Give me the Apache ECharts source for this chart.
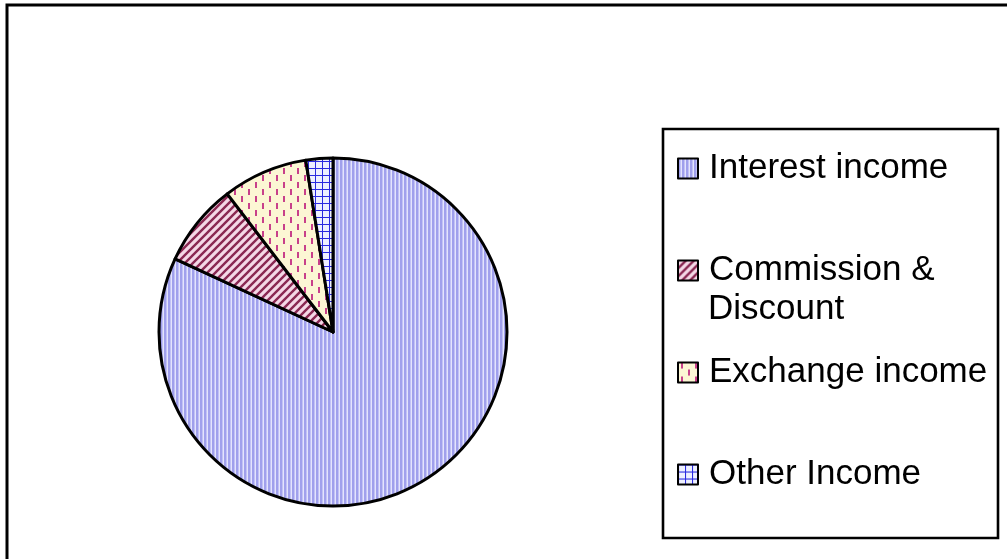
<!DOCTYPE html>
<html>
<head>
<meta charset="utf-8">
<script src="https://cdn.jsdelivr.net/npm/echarts@6/dist/echarts.min.js"></script>
<style>
  html, body { margin: 0; padding: 0; background: #fff; }
  #chart { width: 1007px; height: 559px; }
</style>
</head>
<body>
<div id="chart"></div>
<script>
// income breakdown, share in percent
var categories = ['Interest income', 'Commission & Discount', 'Exchange income', 'Other Income'];
var shares = [81.9, 7.7, 7.9, 2.5];
var legendLabels = ['Interest income', 'Commission &', 'Exchange income', 'Other Income'];

// little canvas tiles for the excel-like hatch fills
function tile(w, h, draw) {
  var c = document.createElement('canvas');
  c.width = w; c.height = h;
  draw(c.getContext('2d'));
  return { image: c, repeat: 'repeat' };
}

var fills = [
  tile(4, 4, function (g) {
    g.fillStyle = '#e4e4fc'; g.fillRect(0, 0, 4, 4);
    g.fillStyle = '#a0a0ec'; g.fillRect(0, 0, 2, 4);
    g.fillStyle = '#c2c2f6'; g.fillRect(2, 0, 1, 4);
  }),
  tile(8, 8, function (g) {
    g.fillStyle = '#f4d8e6'; g.fillRect(0, 0, 8, 8);
    g.strokeStyle = '#8a2852'; g.lineWidth = 2.4;
    g.beginPath();
    g.moveTo(-2, 10); g.lineTo(10, -2);
    g.moveTo(-10, 10); g.lineTo(2, -2);
    g.moveTo(6, 10); g.lineTo(18, -2);
    g.stroke();
  }),
  tile(14, 14, function (g) {
    g.fillStyle = '#fcf6d4'; g.fillRect(0, 0, 14, 14);
    g.fillStyle = '#c8408a';
    g.fillRect(3, 0, 2, 6);
    g.fillRect(10, 7, 2, 6);
  }),
  tile(7, 7, function (g) {
    g.fillStyle = '#eef0ff'; g.fillRect(0, 0, 7, 7);
    g.fillStyle = '#2a2ae0';
    g.fillRect(0, 0, 7, 1);
    g.fillRect(0, 0, 1, 7);
  })
];

var font = 'Liberation Sans, Arial, sans-serif';
var iconTops = [151, 253, 355, 457];

var chart = echarts.init(document.getElementById('chart'));

var legends = categories.map(function (name, i) {
  return {
    data: [name],
    left: 677,
    top: iconTops[i],
    padding: 0,
    icon: 'rect',
    itemWidth: 20,
    itemHeight: 20,
    selectedMode: false,
    itemStyle: { borderColor: '#000', borderWidth: 2 },
    formatter: function () { return legendLabels[i]; },
    textStyle: { fontFamily: font, fontSize: 35, color: '#000', lineHeight: 20, padding: [0, 0, 0, 6] }
  };
});

chart.setOption({
  animation: false,
  backgroundColor: '#fff',
  legend: legends,
  graphic: [
    { type: 'rect', shape: { x: 7, y: 5, width: 1100, height: 700 },
      style: { fill: null, stroke: '#000', lineWidth: 3 }, silent: true },
    { type: 'rect', shape: { x: 663, y: 129, width: 335, height: 409 },
      style: { fill: null, stroke: '#000', lineWidth: 2.6 }, silent: true },
    { type: 'text', left: 708, top: 292,
      style: { text: 'Discount', font: '35px ' + font, fill: '#000' } }
  ],
  series: [{
    type: 'pie',
    center: [333, 332],
    radius: 174,
    startAngle: 90,
    clockwise: true,
    label: { show: false },
    labelLine: { show: false },
    emphasis: { disabled: true },
    itemStyle: { borderColor: '#000', borderWidth: 3 },
    data: categories.map(function (name, i) {
      return { name: name, value: shares[i], itemStyle: { color: fills[i] } };
    })
  }]
});
</script>
</body>
</html>
